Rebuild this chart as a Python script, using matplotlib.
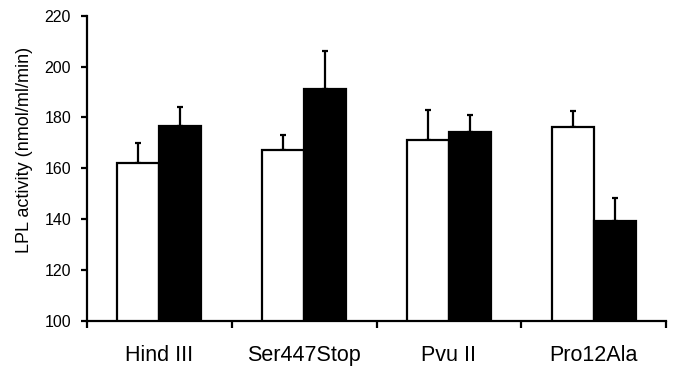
import matplotlib
matplotlib.use("Agg")
import matplotlib.pyplot as plt
import numpy as np

plt.rcParams['font.family'] = ['Liberation Sans', 'DejaVu Sans']

# values
categories = ["Hind III", "Ser447Stop", "Pvu II", "Pro12Ala"]
white_vals = [162.0, 167.3, 171.2, 176.2]
white_err = [7.8, 5.8, 11.6, 6.3]
black_vals = [176.7, 191.0, 174.1, 139.2]
black_err = [7.5, 15.1, 6.9, 9.0]

fig = plt.figure(figsize=(6.73, 3.69), dpi=100)
ax = fig.add_axes([0.1293, 0.1301, 0.8603, 0.8274])

x = np.arange(len(categories))
w = 0.29
lw = 1.6

ax.bar(x - w / 2, white_vals, width=w, color="white",
       edgecolor="black", linewidth=lw, zorder=2)
ax.bar(x + w / 2, black_vals, width=w, color="black",
       edgecolor="black", linewidth=lw, zorder=2)

# one-sided (upper) error bars
ax.errorbar(x - w / 2, white_vals, yerr=[np.zeros(len(x)), white_err],
            fmt="none", ecolor="black", elinewidth=lw, capsize=2,
            capthick=lw, zorder=1)
ax.errorbar(x + w / 2, black_vals, yerr=[np.zeros(len(x)), black_err],
            fmt="none", ecolor="black", elinewidth=lw, capsize=2,
            capthick=lw, zorder=1)

ax.set_ylim(100, 220)
ax.set_xlim(-0.5, len(categories) - 0.5)
ax.set_yticks(np.arange(100, 221, 20))
ax.tick_params(axis="y", direction="out", length=4.5, width=lw,
               labelsize=11.5, pad=7)

# boundary ticks as major, labels at category centres as minor
ax.set_xticks(np.arange(-0.5, len(categories), 1.0))
ax.set_xticklabels([])
ax.tick_params(axis="x", which="major", direction="out", length=5,
               width=lw)
ax.set_xticks(x, minor=True)
ax.set_xticklabels(categories, minor=True)
ax.tick_params(axis="x", which="minor", length=0, labelsize=15.5, pad=17)

for side in ["top", "right"]:
    ax.spines[side].set_visible(False)
for side in ["left", "bottom"]:
    ax.spines[side].set_linewidth(lw)

fig.text(25 / 673, 1 - 150 / 369, "LPL activity (nmol/ml/min)",
         rotation=90, ha="center", va="center", fontsize=13)

fig.savefig("out.png", dpi=100)
